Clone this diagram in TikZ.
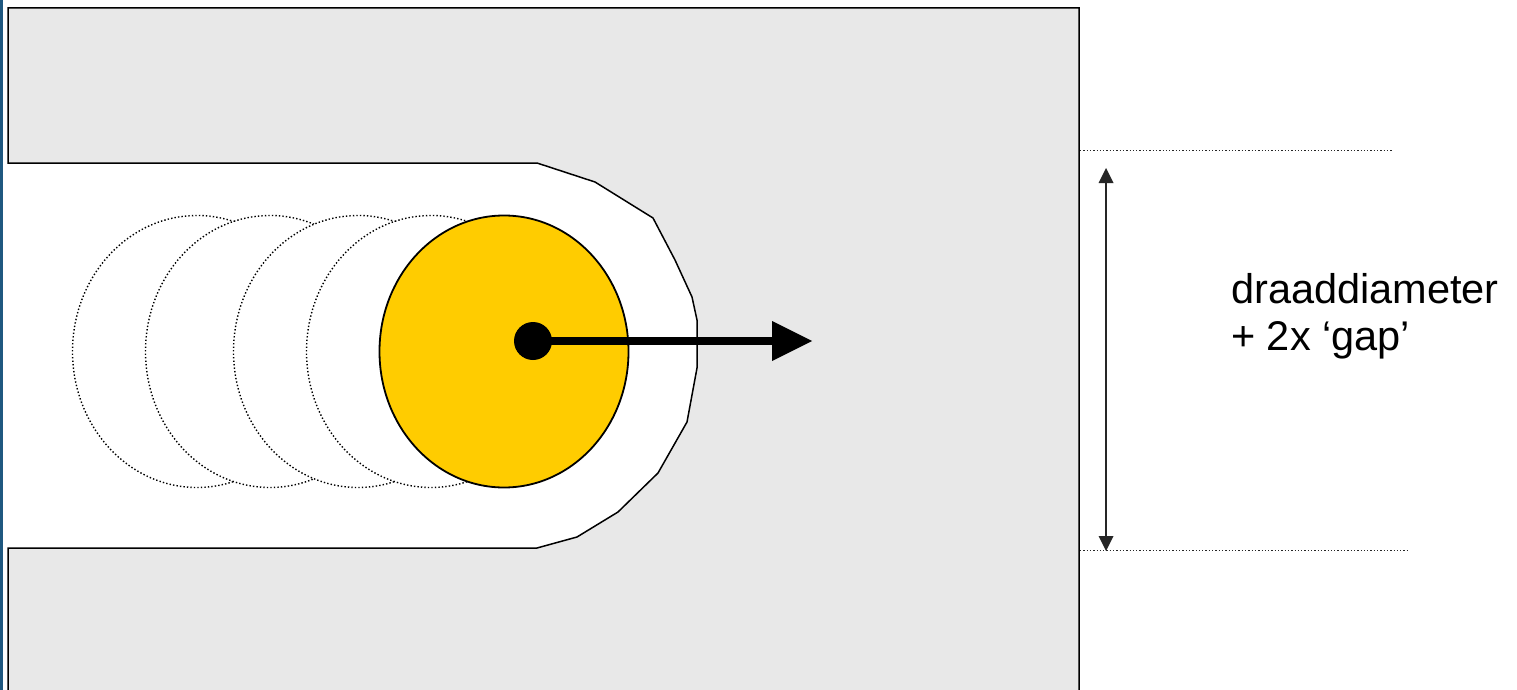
\documentclass[tikz,border=0pt]{standalone}
\usepackage{fontspec}
\setmainfont{Liberation Sans}
\usetikzlibrary{arrows.meta}
\definecolor{slotgray}{RGB}{232,232,232}
\definecolor{wireyellow}{RGB}{255,204,0}
\definecolor{edgeblue}{RGB}{31,88,128}
\begin{document}
\begin{tikzpicture}[x=1pt,y=-1pt,
  outline/.style={draw=black,line width=1.5pt,line join=miter},
  ghost/.style={draw=black,fill=white,line width=1.4pt,dash pattern=on 1.4pt off 2.1pt},
  guide/.style={draw=black!85,line width=1.3pt,dash pattern=on 1.3pt off 2pt},
  wire/.style={draw=black,line width=1.8pt,fill=wireyellow},
  lab/.style={anchor=base west,inner sep=0pt,font=\fontsize{41.5}{47}\selectfont}]
\useasboundingbox (0,0) rectangle (1517,690);
\clip (0,0) rectangle (1517,690);
\fill[white] (0,0) rectangle (1517,690);
\fill[edgeblue] (0,0) rectangle (2.5,690);
% plate with slot
\draw[outline, fill=slotgray] (8,8) -- (1079,8) -- (1079,720) -- (8,720) -- (8,548)
  -- (537,548) -- (577,537) -- (618,512) -- (658,473) -- (687,422) -- (697,368)
  -- (697,320) -- (692,297) -- (675,260) -- (653,218) -- (595,182) -- (537,163)
  -- (8,163) -- cycle;
% previous wire positions
\draw[ghost] (197,351.5) ellipse [x radius=124.5, y radius=136];
\draw[ghost] (270,351.5) ellipse [x radius=124.5, y radius=136];
\draw[ghost] (358,351.5) ellipse [x radius=124.5, y radius=136];
\draw[ghost] (431,351.5) ellipse [x radius=124.5, y radius=136];
% current wire
\draw[wire] (504,351.5) ellipse [x radius=124.5, y radius=136];
% motion arrow
\node[circle, fill=black, minimum size=38pt, inner sep=0pt] (dot) at (533,341) {};
\coordinate (tip) at (812,341);
\draw[line width=8pt, -{Triangle[length=40pt,width=40pt,line width=0pt]}] (dot.center) -- (tip);
% dimension
\coordinate (gtopL) at (1080,150.5);
\coordinate (gtopR) at (1392,150.5);
\coordinate (gbotL) at (1080,550.5);
\coordinate (gbotR) at (1408,550.5);
\draw[guide] (gtopL) -- (gtopR);
\draw[guide] (gbotL) -- (gbotR);
\coordinate (dimtop) at (1106,168);
\coordinate (dimbot) at (1106,551);
\draw[line width=1.5pt, draw=black!85,
  {Triangle[length=15pt,width=15pt,line width=0pt]}-{Triangle[length=15pt,width=15pt,line width=0pt]}]
  (dimtop) -- (dimbot);
\node[lab] (lab1) at (1231,303) {draaddiameter};
\node[lab] (lab2) at (1231,350) {+ 2x ‘gap’};
\end{tikzpicture}
\end{document}
